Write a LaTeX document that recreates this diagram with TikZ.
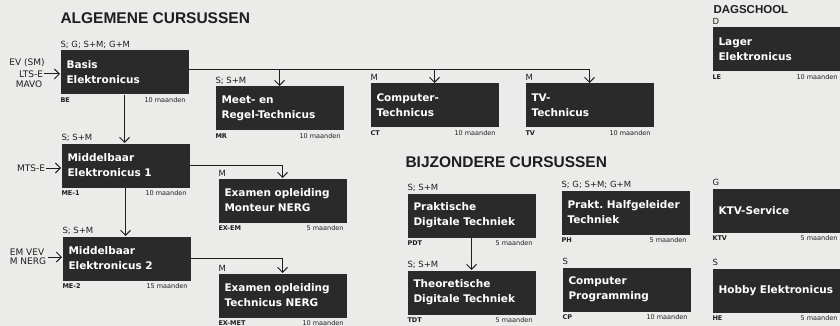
\documentclass[tikz,border=0pt]{standalone}
\usepackage{fontspec}
\setsansfont{DejaVu Sans}
\newfontfamily\headfont{Liberation Sans}
\usetikzlibrary{arrows.meta, positioning}
\definecolor{cpaper}{HTML}{EBEBEA}
\definecolor{cbox}{HTML}{2A2A2A}
\definecolor{cink}{HTML}{1E1E1E}
\frenchspacing
\tikzset{
  every picture/.style={font=\sffamily, line width=1pt, x=1pt, y=-1pt},
  course/.style={anchor=north west, fill=cbox, text=white, font=\sffamily\bfseries\fontsize{10.5}{15}\selectfont,
    minimum width=128pt, minimum height=44pt, text width=116pt, inner xsep=6pt, align=left},
  heading/.style={anchor=west, text=cink, font=\headfont\bfseries\fontsize{15.5}{18}\selectfont, inner sep=0pt},
  ctag/.style={anchor=south west, text=cink, font=\sffamily\fontsize{8.5}{10}\selectfont, inner xsep=0pt, inner ysep=1.5pt},
  abbr/.style={anchor=north west, text=cink, font=\sffamily\bfseries\fontsize{6.5}{8}\selectfont, inner xsep=0pt, inner ysep=2pt},
  dur/.style={anchor=north east, xshift=-3pt, text=cink, font=\sffamily\fontsize{6.5}{8}\selectfont, inner xsep=0pt, inner ysep=2pt},
  entry/.style={text=cink, font=\sffamily\fontsize{9}{9}\selectfont, inner sep=1pt, align=center},
  arrow/.style={-{Straight Barb[length=5pt, width=10pt]}, draw=cink},
}

\begin{document}
\begin{tikzpicture}
  \useasboundingbox[fill=cpaper] (0,0) rectangle (840,326);
  \clip (0,0) rectangle (840,326);
  % algemene cursussen
  \node[heading] (h1) at (60,18) {ALGEMENE CURSUSSEN};
  \node[course] (be) at (60,50) {Basis\\Elektronicus};
  \node[ctag] (be-t) at (be.north west) {S;\ G;\ S+M;\ G+M};
  \node[abbr] (be-c) at (be.south west) {BE};
  \node[dur] (be-d) at (be.south east) {10 maanden};
  \node[entry] (ev) at (27,63) {EV (SM)};
  \node[entry] (lts) at (31,74) {LTS-E};
  \node[entry] (mavo) at (29,84) {MAVO};
  \draw[arrow] (lts) -- (lts -| be.west);

  \node[course] (mr) at (215,86) {Meet- en\\Regel-Technicus};
  \node[ctag] (mr-t) at (mr.north west) {S;\ S+M};
  \node[abbr] (mr-c) at (mr.south west) {MR};
  \node[dur] (mr-d) at (mr.south east) {10 maanden};

  \node[course] (ct) at (370,83) {Computer-\\Technicus};
  \node[ctag] (ct-t) at (ct.north west) {M};
  \node[abbr] (ct-c) at (ct.south west) {CT};
  \node[dur] (ct-d) at (ct.south east) {10 maanden};

  \node[course] (tv) at (525,83) {TV-\\Technicus};
  \node[ctag] (tv-t) at (tv.north west) {M};
  \node[abbr] (tv-c) at (tv.south west) {TV};
  \node[dur] (tv-d) at (tv.south east) {10 maanden};

  \node[course] (me1) at (61,143) {Middelbaar\\Elektronicus 1};
  \node[ctag] (me1-t) at (me1.north west) {S;\ S+M};
  \node[abbr] (me1-c) at (me1.south west) {ME-1};
  \node[dur] (me1-d) at (me1.south east) {10 maanden};
  \node[entry] (mts) at (31,168) {MTS-E};
  \draw[arrow] (mts) -- (mts -| me1.west);

  \node[course] (exem) at (218,178) {Examen opleiding\\Monteur NERG};
  \node[ctag] (exem-t) at (exem.north west) {M};
  \node[abbr] (exem-c) at (exem.south west) {EX-EM};
  \node[dur] (exem-d) at (exem.south east) {5 maanden};

  \node[course] (me2) at (62,236) {Middelbaar\\Elektronicus 2};
  \node[ctag] (me2-t) at (me2.north west) {S;\ S+M};
  \node[abbr] (me2-c) at (me2.south west) {ME-2};
  \node[dur] (me2-d) at (me2.south east) {15 maanden};
  \node[entry, align=left] (emv) at (28,257) {EM VEV\\M NERG};
  \draw[arrow] (emv) -- (emv -| me2.west);

  \node[course] (exmet) at (218,273) {Examen opleiding\\Technicus NERG};
  \node[ctag] (exmet-t) at (exmet.north west) {M};
  \node[abbr] (exmet-c) at (exmet.south west) {EX-MET};
  \node[dur] (exmet-d) at (exmet.south east) {10 maanden};

  \draw[arrow] (be.south) -- (be.south |- me1.north);
  \draw[arrow] (me1.south) -- (me1.south |- me2.north);
  \draw[arrow] ([yshift=3pt]be.east) -| (tv.north);
  \draw[arrow] ([yshift=3pt]be.east -| mr.north) -- (mr.north);
  \draw[arrow] ([yshift=3pt]be.east -| ct.north) -- (ct.north);
  \draw[arrow] (me1.east) -| (exem.north);
  \draw[arrow] (me2.east) -| (exmet.north);

  % bijzondere cursussen
  \node[heading] (h2) at (405,162) {BIJZONDERE CURSUSSEN};
  \node[course] (pdt) at (407,193) {Praktische\\Digitale Techniek};
  \node[ctag] (pdt-t) at (pdt.north west) {S;\ S+M};
  \node[abbr] (pdt-c) at (pdt.south west) {PDT};
  \node[dur] (pdt-d) at (pdt.south east) {5 maanden};

  \node[course] (tdt) at (407,270) {Theoretische\\Digitale Techniek};
  \node[ctag] (tdt-t) at (tdt.north west) {S;\ S+M};
  \node[abbr] (tdt-c) at (tdt.south west) {TDT};
  \node[dur] (tdt-d) at (tdt.south east) {5 maanden};
  \draw[arrow] (pdt.south) -- (pdt.south |- tdt.north);

  \node[course] (ph) at (561,190) {Prakt.\ Halfgeleider\\Techniek};
  \node[ctag] (ph-t) at (ph.north west) {S;\ G;\ S+M;\ G+M};
  \node[abbr] (ph-c) at (ph.south west) {PH};
  \node[dur] (ph-d) at (ph.south east) {5 maanden};

  \node[course] (cp) at (562,267) {Computer\\Programming};
  \node[ctag] (cp-t) at (cp.north west) {S};
  \node[abbr] (cp-c) at (cp.south west) {CP};
  \node[dur] (cp-d) at (cp.south east) {10 maanden};

  % dagschool
  \node[heading, font=\headfont\bfseries\fontsize{11.5}{13}\selectfont] (h3) at (713,10) {DAGSCHOOL};
  \node[course] (le) at (712,27) {Lager\\Elektronicus};
  \node[ctag] (le-t) at (le.north west) {D};
  \node[abbr] (le-c) at (le.south west) {LE};
  \node[dur] (le-d) at (le.south east) {10 maanden};

  \node[course] (ktv) at (712,188) {KTV-Service};
  \node[ctag] (ktv-t) at (ktv.north west) {G};
  \node[abbr] (ktv-c) at (ktv.south west) {KTV};
  \node[dur] (ktv-d) at (ktv.south east) {5 maanden};

  \node[course] (he) at (712,268) {Hobby Elektronicus};
  \node[ctag] (he-t) at (he.north west) {S};
  \node[abbr] (he-c) at (he.south west) {HE};
  \node[dur] (he-d) at (he.south east) {5 maanden};
\end{tikzpicture}
\end{document}
